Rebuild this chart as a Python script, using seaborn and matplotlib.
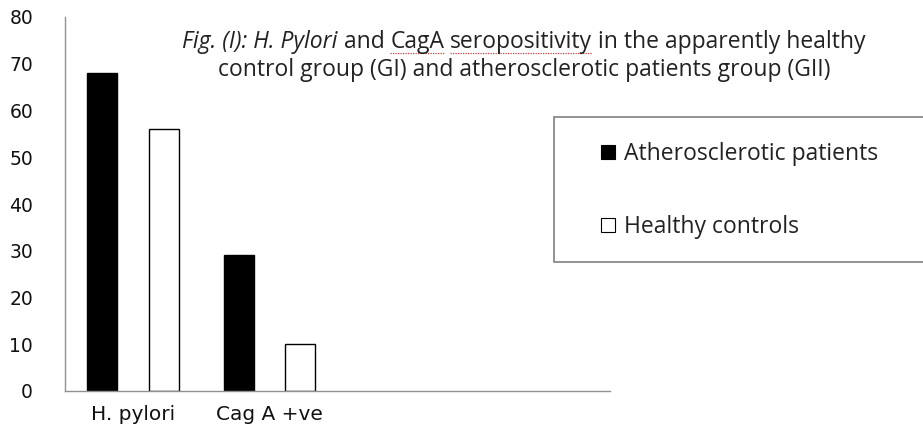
import matplotlib
matplotlib.use("Agg")
import matplotlib.pyplot as plt
import seaborn as sns
import pandas as pd
from matplotlib.patches import Rectangle, Patch
from matplotlib.lines import Line2D

# ---- data ----
categories = ["H. pylori", "Cag A +ve"]
groups = ["Atherosclerotic patients", "Healthy controls"]
patients = [68, 29]
controls = [56, 10]
yticks = [0, 10, 20, 30, 40, 50, 60, 70, 80]
title_line1 = [("Fig. (I): H. Pylori", "italic", False), ("and", "normal", False),
               ("CagA", "normal", True), ("seropositivity", "normal", True),
               ("in the apparently healthy", "normal", False)]
title_line2 = "control group (GI) and atherosclerotic patients group (GII)"

df = pd.DataFrame({
    "category": categories * 2,
    "group": [groups[0]] * len(categories) + [groups[1]] * len(categories),
    "value": patients + controls,
})

W, H = 923, 430
def fx(px): return px / W
def fy(py): return 1 - py / H

sns.set_style("white")
plt.rcParams["font.family"] = ["DejaVu Sans"]

fig = plt.figure(figsize=(W / 100, H / 100), dpi=100)
ax = fig.add_axes([fx(65), fy(391), (610 - 65) / W, (391 - 17) / H])

sns.barplot(data=df, x="category", y="value", hue="group", order=categories,
            hue_order=groups, palette=["black", "white"], edgecolor="black",
            linewidth=1, width=0.9, gap=0.51, legend=False, ax=ax, errorbar=None,
            saturation=1)

ax.set_xlim(-0.5, 3.5)
ax.set_ylim(0, 80)
ax.set_yticks(yticks)
ax.set_yticklabels([str(v) for v in yticks])
ax.set_xticks([-0.5, 0.5, 1.5, 2.5, 3.5])
ax.set_xticklabels([])
ax.set_xticks([0, 1], minor=True)
ax.set_xticklabels(categories, minor=True)
ax.tick_params(axis="x", which="major", direction="out", length=6, color="#909090", width=1)
ax.tick_params(axis="x", which="minor", length=0, pad=10, labelsize=14.5,
               labelcolor="#111111")
ax.tick_params(axis="y", direction="out", length=7, color="#909090", width=1,
               labelsize=13.5, pad=16, labelcolor="#111111")
ax.set_xlabel("")
ax.set_ylabel("")
for s in ["top", "right"]:
    ax.spines[s].set_visible(False)
for s in ["left", "bottom"]:
    ax.spines[s].set_color("#909090")
    ax.spines[s].set_linewidth(1)

# ---- title (mixed styles) ----
tfont = "Open Sans"
tsize = 16.5
renderer = fig.canvas.get_renderer()
def width_px(s, style):
    t = fig.text(0, 0, s, fontsize=tsize, family=tfont, style=style)
    w = t.get_window_extent(renderer).width
    t.remove()
    return w
space = width_px("x x", "normal") - width_px("xx", "normal")

pieces = []
for s, style, ul in title_line1:
    pieces.append((s, style, ul, width_px(s, style)))
total = sum(p[3] for p in pieces) + space * (len(pieces) - 1)
cx = 524
x = cx - total / 2
base1 = 48
for s, style, ul, w in pieces:
    fig.text(fx(x), fy(base1), s, fontsize=tsize, family=tfont, style=style,
             ha="left", va="baseline", color="#222222")
    if ul:
        fig.add_artist(Line2D([fx(x), fx(x + w)], [fy(base1 + 5), fy(base1 + 5)],
                              color="#d04040", lw=0.9, ls=(0, (1, 1)),
                              transform=fig.transFigure))
    x += w + space
fig.text(fx(cx), fy(76), title_line2, fontsize=tsize, family=tfont,
         ha="center", va="baseline", color="#222222")

# ---- legend ----
fig.add_artist(Rectangle((fx(554), fy(262)), fx(1000 - 554), (262 - 117) / H,
                         transform=fig.transFigure, facecolor="white",
                         edgecolor="#808080", lw=1.2, zorder=5))
handles = [Patch(facecolor="black", edgecolor="black", lw=0.8),
           Patch(facecolor="white", edgecolor="black", lw=0.8)]
leg = fig.legend(handles, groups, loc="upper left",
                 bbox_to_anchor=(fx(601), fy(142)), frameon=False,
                 prop={"family": tfont, "size": tsize}, handlelength=0.6,
                 handleheight=0.6, handletextpad=0.4, labelspacing=2.15,
                 borderpad=0, borderaxespad=0)
leg.set_zorder(6)
for t in leg.get_texts():
    t.set_color("#222222")

fig.savefig("out.png", dpi=100)
